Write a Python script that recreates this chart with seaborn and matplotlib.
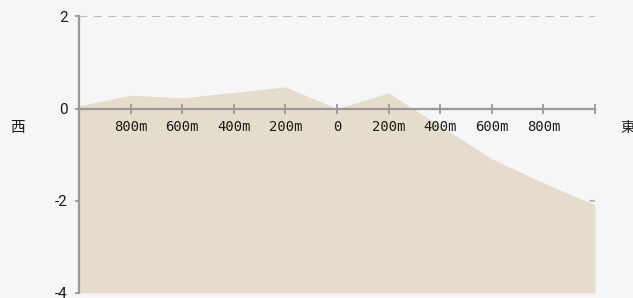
import matplotlib
matplotlib.use("Agg")
import matplotlib.pyplot as plt
import seaborn as sns
import pandas as pd

# distance along the west-east section (m) and elevation
distance = [-1000, -800, -600, -400, -200, 0, 200, 400, 600, 800, 1000]
elevation = [0.06, 0.29, 0.23, 0.35, 0.47, 0.0, 0.34, -0.38, -1.09, -1.61, -2.09]
xtick_pos = [-1000, -800, -600, -400, -200, 0, 200, 400, 600, 800, 1000]
xtick_labels = ["", "800m", "600m", "400m", "200m", "0", "200m", "400m", "600m", "800m", ""]
ytick_pos = [-4, -2, 0, 2]
ytick_labels = ["-4", "-2", "0", "2"]

bg = "#f5f6f8"
axis_grey = "#999999"
fill_col = "#e6dccb"
text_col = "#1a1a1a"

sns.set_theme(style="white")
plt.rcParams["axes.unicode_minus"] = False
plt.rcParams["font.family"] = ["Noto Sans CJK JP", "DejaVu Sans"]

df = pd.DataFrame({"distance": distance, "elevation": elevation})

fig = plt.figure(figsize=(6.33, 2.98), dpi=100, facecolor=bg)
ax = fig.add_axes([79 / 633, 1 - 293 / 298, (595 - 79) / 633, (293 - 16.3) / 298])
ax.set_facecolor(bg)

sns.lineplot(data=df, x="distance", y="elevation", ax=ax, color=fill_col, linewidth=0, zorder=2)
ax.fill_between(df["distance"], df["elevation"], -4, color=fill_col, linewidth=0, zorder=2)

ax.set_xlim(-1000, 1000)
ax.set_ylim(-4, 2)

# dashed horizontal grid under the area
for yv in ytick_pos:
    ax.axhline(yv, color="#bdbdbd", linewidth=1.5, dashes=(4.0, 3.0), zorder=1)

# axis lines, ticks and labels drawn above the area
ax.set_axisbelow(False)
for s in ["top", "right"]:
    ax.spines[s].set_visible(False)
ax.spines["bottom"].set_position(("data", 0))
ax.spines["bottom"].set_color(axis_grey)
ax.spines["bottom"].set_linewidth(1.6)
ax.spines["left"].set_color(axis_grey)
ax.spines["left"].set_linewidth(1.6)

ax.set_xticks(xtick_pos)
ax.set_xticklabels(xtick_labels, family="DejaVu Sans Mono", fontsize=10, color=text_col)
ax.tick_params(axis="x", bottom=True, direction="inout", length=7, width=1.3, color=axis_grey, pad=5)

ax.set_yticks(ytick_pos)
ax.set_yticklabels(ytick_labels, family="Roboto", fontsize=11, color=text_col)
ax.tick_params(axis="y", left=True, direction="out", length=3, width=1.3, color=axis_grey, pad=5)

ax.set_xlabel("")
ax.set_ylabel("")

fig.text(17 / 633, 1 - 128 / 298, "西", ha="center", va="center", fontsize=10.5, color=text_col)
fig.text(628 / 633, 1 - 128 / 298, "東", ha="center", va="center", fontsize=10.5, color=text_col)

fig.savefig("out.png", dpi=100, facecolor=bg)
